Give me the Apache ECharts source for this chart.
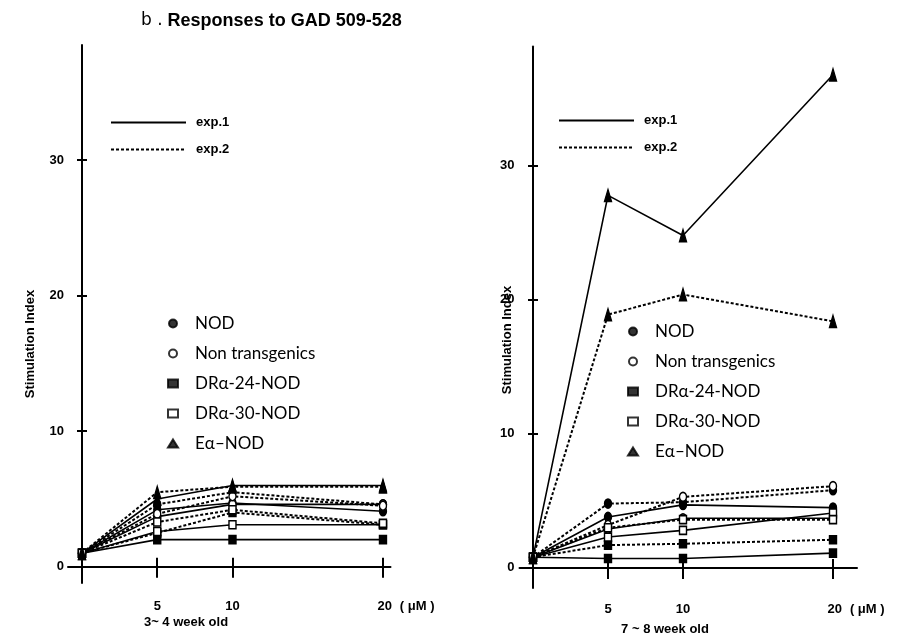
<!DOCTYPE html>
<html>
<head>
<meta charset="utf-8">
<script src="https://cdn.jsdelivr.net/npm/echarts@6/dist/echarts.min.js"></script>
<style>html,body{margin:0;padding:0;background:#fff}#c{width:901px;height:638px}</style>
</head>
<body>
<div id="c"></div>
<script>
// ---- data ----
const doses = [0, 5, 10, 20];
const yTickValues = [0, 10, 20, 30];
const xTickValues = [5, 10, 20];
const groups = ['NOD', 'Non transgenics', 'DRα-24-NOD', 'DRα-30-NOD', 'Eα–NOD'];
const expNames = ['exp.1', 'exp.2'];
const title = 'Responses to GAD 509-528';
const panelLabels = ['3~ 4 week old', '7 ~ 8 week old'];
const yName = 'Stimulation Index';

// left panel: 3~4 week old
const L_NOD_1 = [1.0, 4.2, 4.7, 4.1];
const L_NOD_2 = [1.0, 4.6, 5.5, 4.6];
const L_NT_1  = [1.0, 3.7, 4.6, 4.6];
const L_NT_2  = [1.0, 3.9, 5.2, 4.5];
const L_DR24_1 = [1.0, 2.0, 2.0, 2.0];
const L_DR24_2 = [1.0, 2.5, 4.0, 3.1];
const L_DR30_1 = [1.0, 2.6, 3.1, 3.1];
const L_DR30_2 = [1.0, 3.3, 4.2, 3.2];
const L_EA_1 = [1.0, 5.0, 6.0, 6.0];
const L_EA_2 = [1.0, 5.5, 5.9, 5.9];

// right panel: 7~8 week old
const R_NOD_1 = [0.8, 3.8, 4.7, 4.5];
const R_NOD_2 = [0.8, 4.8, 4.9, 5.8];
const R_NT_1  = [0.8, 2.9, 3.7, 3.7];
const R_NT_2  = [0.8, 3.2, 5.3, 6.1];
const R_DR24_1 = [0.8, 0.7, 0.7, 1.1];
const R_DR24_2 = [0.8, 1.7, 1.8, 2.1];
const R_DR30_1 = [0.8, 2.3, 2.8, 4.1];
const R_DR30_2 = [0.8, 3.0, 3.6, 3.6];
const R_EA_1 = [0.8, 27.8, 24.8, 36.8];
const R_EA_2 = [0.8, 18.9, 20.4, 18.4];

// ---- styles ----
const FONT = 'Liberation Sans';
const markerStyle = {
  'NOD': {symbol: 'circle', size: [7, 9], color: '#000'},
  'Non transgenics': {symbol: 'circle', size: [7, 9], color: '#fff'},
  'DRα-24-NOD': {symbol: 'rect', size: [7, 8], color: '#000'},
  'DRα-30-NOD': {symbol: 'rect', size: [7, 8], color: '#fff'},
  'Eα–NOD': {symbol: 'triangle', size: [7, 12], color: '#000'}
};
const lineTypes = {'exp.1': 'solid', 'exp.2': [3, 2]};
const lineWidths = {'exp.1': 1.6, 'exp.2': 2};

function mk(group, exp, vals, panel) {
  const m = markerStyle[group];
  return {
    name: group + ' ' + exp,
    type: 'line',
    xAxisIndex: panel * 2,
    yAxisIndex: panel * 2,
    data: doses.map((d, i) => [d, vals[i]]),
    symbol: m.symbol,
    symbolSize: m.size,
    showAllSymbol: true,
    itemStyle: {color: m.color, borderColor: '#000', borderWidth: 1.5},
    lineStyle: {color: '#000', width: lineWidths[exp], type: lineTypes[exp]},
    z: 3,
    silent: true
  };
}

const series = [
  mk('NOD', 'exp.1', L_NOD_1, 0), mk('NOD', 'exp.2', L_NOD_2, 0),
  mk('Non transgenics', 'exp.1', L_NT_1, 0), mk('Non transgenics', 'exp.2', L_NT_2, 0),
  mk('DRα-24-NOD', 'exp.1', L_DR24_1, 0), mk('DRα-24-NOD', 'exp.2', L_DR24_2, 0),
  mk('DRα-30-NOD', 'exp.1', L_DR30_1, 0), mk('DRα-30-NOD', 'exp.2', L_DR30_2, 0),
  mk('Eα–NOD', 'exp.1', L_EA_1, 0), mk('Eα–NOD', 'exp.2', L_EA_2, 0),
  mk('NOD', 'exp.1', R_NOD_1, 1), mk('NOD', 'exp.2', R_NOD_2, 1),
  mk('Non transgenics', 'exp.1', R_NT_1, 1), mk('Non transgenics', 'exp.2', R_NT_2, 1),
  mk('DRα-24-NOD', 'exp.1', R_DR24_1, 1), mk('DRα-24-NOD', 'exp.2', R_DR24_2, 1),
  mk('DRα-30-NOD', 'exp.1', R_DR30_1, 1), mk('DRα-30-NOD', 'exp.2', R_DR30_2, 1),
  mk('Eα–NOD', 'exp.1', R_EA_1, 1), mk('Eα–NOD', 'exp.2', R_EA_2, 1)
];
// legend-only series (no data)
expNames.forEach(e => series.push({
  name: e, type: 'line', data: [], symbol: 'none', xAxisIndex: 0, yAxisIndex: 0,
  itemStyle: {color: '#000'},
  lineStyle: {color: '#000', width: lineWidths[e], type: lineTypes[e]}
}));
groups.forEach(g => series.push({
  name: g, type: 'scatter', data: [], xAxisIndex: 0, yAxisIndex: 0,
  symbol: markerStyle[g].symbol,
  itemStyle: {color: markerStyle[g].color, borderColor: '#000', borderWidth: 1.5}
}));

const lbl = {fontFamily: FONT, fontWeight: 'bold', fontSize: 13, color: '#000'};

function xAxes(gridIndex, min, max, yIdx, margin) {
  return [{
    type: 'value', gridIndex, min, max, position: 'bottom',
    axisLine: {onZero: true, onZeroAxisIndex: yIdx, lineStyle: {color: '#000', width: 2}},
    axisTick: {show: true, length: 11, customValues: xTickValues, lineStyle: {color: '#000', width: 2}},
    axisLabel: Object.assign({}, lbl, {
      customValues: xTickValues, margin,
      formatter: v => v === 20 ? '{pad|}{n|20}{u|( μM )}' : '' + v,
      rich: {
        pad: {width: 46},
        n: Object.assign({}, lbl),
        u: Object.assign({}, lbl, {padding: [0, 0, 0, 8]})
      }
    }),
    splitLine: {show: false}
  }, {
    type: 'value', gridIndex, min, max, position: 'top',
    axisLine: {show: false, onZero: true, onZeroAxisIndex: yIdx},
    axisTick: {show: true, length: 9, customValues: xTickValues, lineStyle: {color: '#000', width: 2}},
    axisLabel: {show: false},
    splitLine: {show: false}
  }];
}
function yAxes(gridIndex, min, max, xIdx, margin) {
  return [{
    type: 'value', gridIndex, min, max, position: 'left',
    axisLine: {onZero: true, onZeroAxisIndex: xIdx, lineStyle: {color: '#000', width: 2}},
    axisTick: {show: true, length: 5, customValues: [10, 20, 30], lineStyle: {color: '#000', width: 2}},
    axisLabel: Object.assign({}, lbl, {customValues: yTickValues, margin}),
    splitLine: {show: false}
  }, {
    type: 'value', gridIndex, min, max, position: 'right',
    axisLine: {show: false, onZero: true, onZeroAxisIndex: xIdx},
    axisTick: {show: true, length: 5, customValues: [10, 20, 30], lineStyle: {color: '#000', width: 2}},
    axisLabel: {show: false},
    splitLine: {show: false}
  }];
}

const expLegend = (left, top) => ({
  data: expNames, left, top, orient: 'vertical', itemWidth: 75, itemHeight: 8, itemGap: 14,
  selectedMode: false, itemStyle: {opacity: 0},
  textStyle: Object.assign({}, lbl, {padding: [0, 0, 0, 5]})
});
const grpLegend = (left, top) => ({
  data: groups.map(g => ({name: g, icon: markerStyle[g].symbol})),
  left, top, orient: 'vertical', itemWidth: 10, itemHeight: 8, itemGap: 13, selectedMode: false,
  textStyle: {fontFamily: 'Lato', fontSize: 17, color: '#000', padding: [0, 0, 0, 12]}
});

const option = {
  animation: false,
  backgroundColor: '#fff',
  title: {
    text: '{b|b .} ' + title, left: 136, top: 7,
    textStyle: {fontFamily: FONT, fontWeight: 'bold', fontSize: 18, color: '#000',
      rich: {b: {fontFamily: 'DejaVu Sans', fontWeight: 'normal', fontSize: 17, color: '#000'}}}
  },
  grid: [
    {left: 68, top: 45, width: 322.5, height: 538},
    {left: 519.5, top: 46.6, width: 337.5, height: 541.4}
  ],
  xAxis: [...xAxes(0, -0.93, 20.5, 0, 17), ...xAxes(1, -0.9, 21.6, 2, 15)],
  yAxis: [...yAxes(0, -1.2, 38.5, 0, 4), ...yAxes(1, -1.5, 38.9, 2, 5)],
  legend: [
    expLegend(105, 111), expLegend(553, 109),
    grpLegend(162, 310), grpLegend(622, 318)
  ],
  graphic: [
    {type: 'text', x: 30, y: 344, rotation: Math.PI / 2,
      style: {text: yName, font: 'bold 13px "Liberation Sans"', fill: '#000', textAlign: 'center', textVerticalAlign: 'middle'}},
    {type: 'text', x: 507, y: 340, rotation: Math.PI / 2,
      style: {text: yName, font: 'bold 13px "Liberation Sans"', fill: '#000', textAlign: 'center', textVerticalAlign: 'middle'}},
    {type: 'text', x: 186, y: 622,
      style: {text: panelLabels[0], font: 'bold 13px "Liberation Sans"', fill: '#000', textAlign: 'center', textVerticalAlign: 'middle'}},
    {type: 'text', x: 665, y: 629,
      style: {text: panelLabels[1], font: 'bold 13px "Liberation Sans"', fill: '#000', textAlign: 'center', textVerticalAlign: 'middle'}}
  ],
  series
};

const chart = echarts.init(document.getElementById('c'), null, {renderer: 'canvas'});
chart.setOption(option);
</script>
</body>
</html>
